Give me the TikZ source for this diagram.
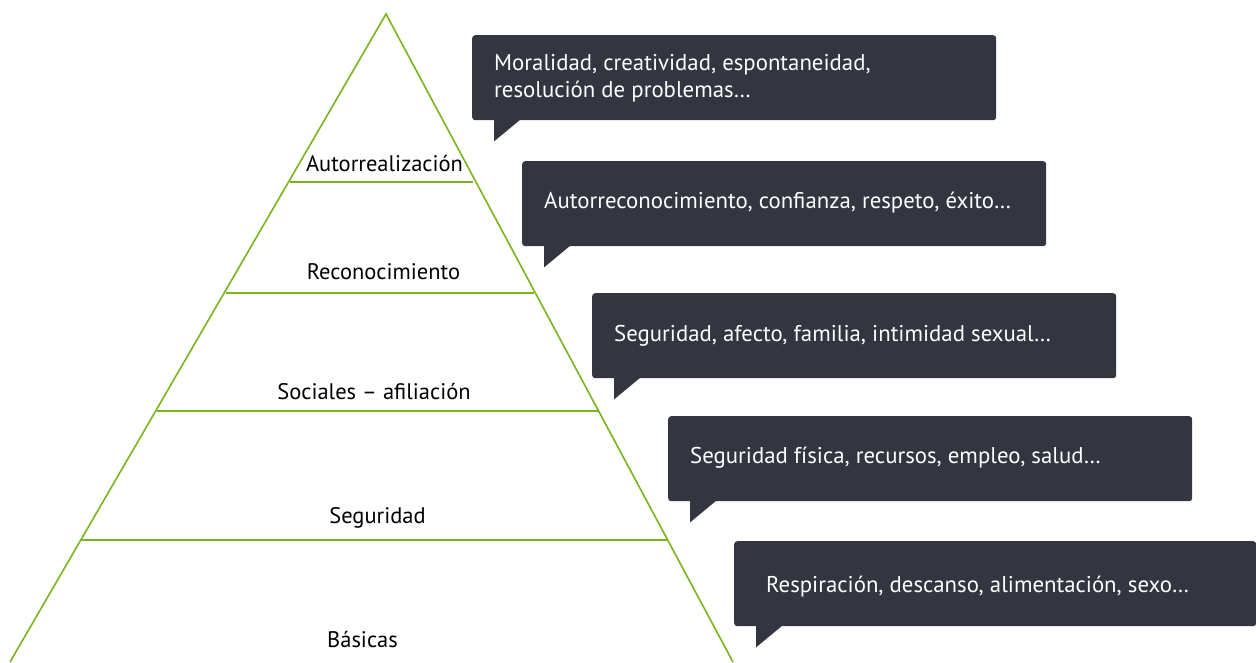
\documentclass[tikz,border=0pt]{standalone}
\usepackage{fontspec}
\setmainfont{PT Sans}
\definecolor{pgreen}{HTML}{7AB51D}
\definecolor{bubble}{HTML}{333640}
\begin{document}
\begin{tikzpicture}[x=1pt,y=-1pt,
  edge/.style={draw=pgreen,line width=1.6pt},
  lvl/.style={font=\fontsize{22.5}{27}\selectfont,text=black,inner sep=0pt,anchor=base},
  bub/.style={fill=bubble,rounded corners=3pt,inner sep=0pt,anchor=north west},
  btext/.style={text=white,font=\fontsize{22.8}{27}\selectfont,align=left,anchor=base west,inner sep=0pt}]
\useasboundingbox (0,0) rectangle (1256,662);
% pyramid
\coordinate (apex) at (386,14);
\coordinate (bl) at (10,662);
\coordinate (br) at (733,662);
\coordinate (l1) at (290,182); \coordinate (r1) at (473,182);
\coordinate (l2) at (226,293); \coordinate (r2) at (534,293);
\coordinate (l3) at (157,411); \coordinate (r3) at (598,411);
\coordinate (l4) at (81,540);  \coordinate (r4) at (667,540);
\draw[edge] (bl) -- (apex) -- (br);
\draw[edge] (l1) -- (r1);
\draw[edge] (l2) -- (r2);
\draw[edge] (l3) -- (r3);
\draw[edge] (l4) -- (r4);
\node[lvl] (t1) at (384.5,171) {Autorrealización};
\node[lvl] (t2) at (383.5,279) {Reconocimiento};
\node[lvl] (t3) at (374,399) {Sociales – afiliación};
\node[lvl] (t4) at (377.5,523) {Seguridad};
\node[lvl] (t5) at (362.5,647) {Básicas};
% bubbles
\newcommand{\bubble}[7]{%
  \node[bub,minimum width=#3,minimum height=#4] (#1) at (#2) {};
  \node[btext] (#1t) at ([xshift=#6,yshift=#5]#1.north west) {#7};
  \fill[bubble] ([xshift=22pt,yshift=0.5pt]#1.south west) -- ([xshift=22pt,yshift=-21pt]#1.south west) -- ([xshift=48pt,yshift=0.5pt]#1.south west) -- cycle;
}
\bubble{b1}{472,35}{524pt}{85pt}{-62pt}{22pt}{Moralidad, creatividad, espontaneidad,\\resolución de problemas…}
\bubble{b2}{522,161}{524pt}{85pt}{-47pt}{22pt}{Autorreconocimiento, confianza, respeto, éxito…}
\bubble{b3}{592,293}{524pt}{85pt}{-48pt}{22pt}{Seguridad, afecto, familia, intimidad sexual…}
\bubble{b4}{668,416}{524pt}{85pt}{-47pt}{22pt}{Seguridad física, recursos, empleo, salud…}
\bubble{b5}{734,541}{522pt}{85pt}{-51pt}{32pt}{Respiración, descanso, alimentación, sexo…}
\end{tikzpicture}
\end{document}
